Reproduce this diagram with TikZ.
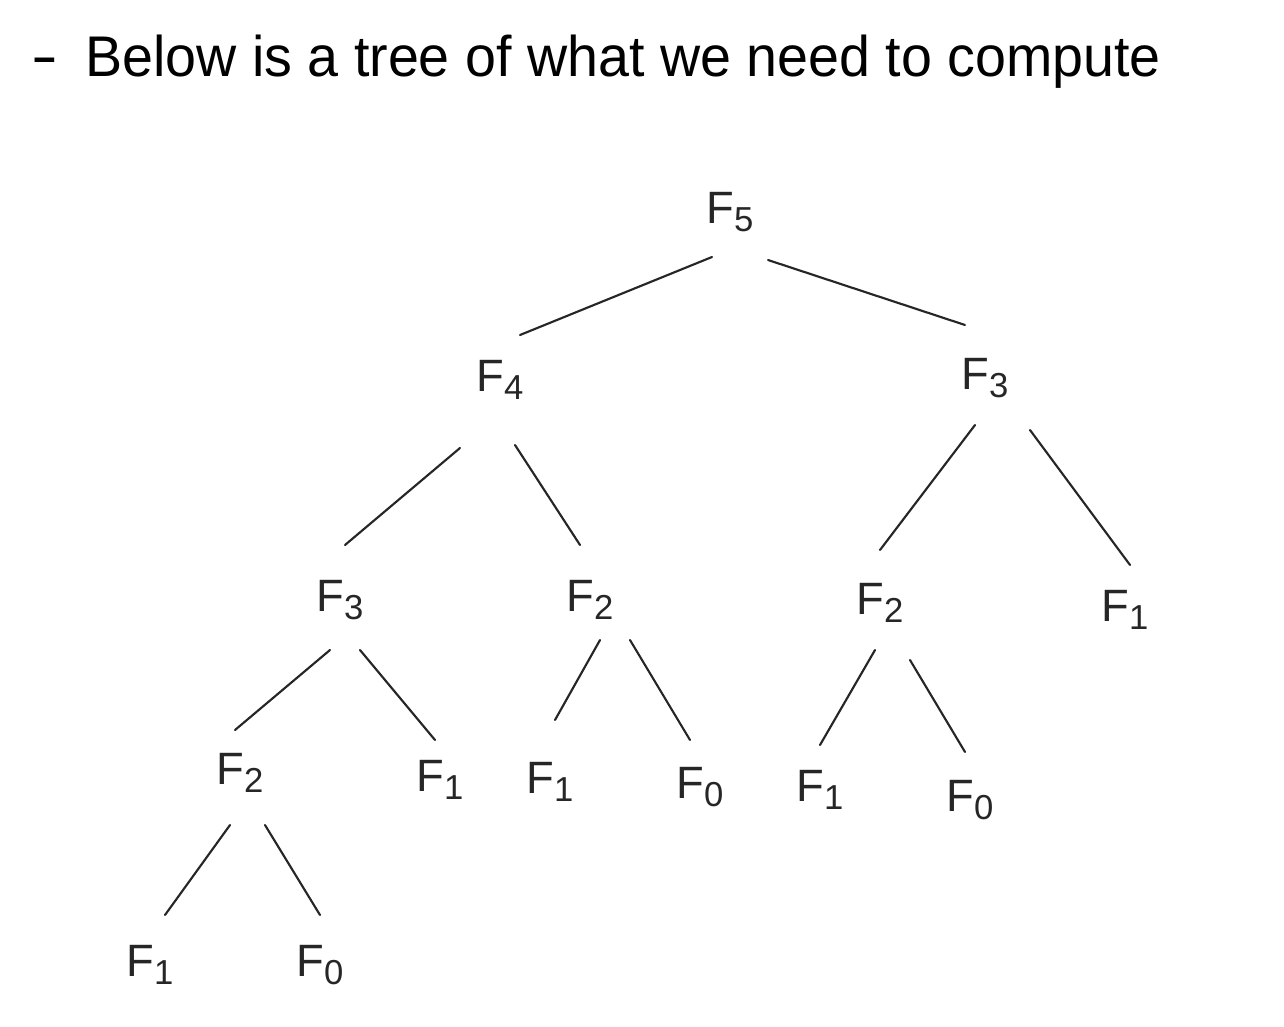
\documentclass[tikz,border=0pt]{standalone}
\usepackage{fontspec}
\setmainfont{Liberation Sans}
\begin{document}
\begin{tikzpicture}[x=0.75pt,y=-0.75pt,
  lbl/.style={inner sep=0pt,text=black!85,font=\fontsize{34}{36}\selectfont},
  twig/.style={draw=black!85,line width=1.6pt,line cap=round}]
\useasboundingbox (0,0) rectangle (1284,1027);
\newcommand{\Fs}[1]{F\raisebox{-0.35ex}{\fontsize{26}{28}\selectfont #1}}
\newcommand{\twigline}[4]{\draw[twig] ([shift={(#2)}]#1.center) -- ([shift={(#4)}]#3.center);}
% title
\node[anchor=base west,inner sep=0pt,font=\fontsize{43}{50}\selectfont,xscale=1.4] (dash) at (31,76) {-};
\node[anchor=base west,inner sep=0pt,font=\fontsize{43}{50}\selectfont,xscale=0.97] (title) at (85,77) {Below is a tree of what we need to compute};
% nodes
\node[lbl] (F5) at (730,212) {\Fs{5}};
\node[lbl] (F4) at (500,380) {\Fs{4}};
\node[lbl] (F3r) at (985,378) {\Fs{3}};
\node[lbl] (F3l) at (340,600) {\Fs{3}};
\node[lbl] (F2m) at (590,600) {\Fs{2}};
\node[lbl] (F2r) at (880,603) {\Fs{2}};
\node[lbl] (F1r) at (1125,610) {\Fs{1}};
\node[lbl] (F2ll) at (240,773) {\Fs{2}};
\node[lbl] (F1a) at (440,780) {\Fs{1}};
\node[lbl] (F1x) at (550,782) {\Fs{1}};
\node[lbl] (F0a) at (700,787) {\Fs{0}};
\node[lbl] (F1b) at (820,790) {\Fs{1}};
\node[lbl] (F0b) at (970,800) {\Fs{0}};
\node[lbl] (F1c) at (150,965) {\Fs{1}};
\node[lbl] (F0c) at (320,965) {\Fs{0}};
% edges
\twigline{F5}{-18,45}{F4}{20,-45}
\twigline{F5}{38,48}{F3r}{-20,-53}
\twigline{F4}{-40,68}{F3l}{5,-55}
\twigline{F4}{15,65}{F2m}{-10,-55}
\twigline{F3r}{-10,47}{F2r}{0,-53}
\twigline{F3r}{45,52}{F1r}{5,-45}
\twigline{F3l}{-10,50}{F2ll}{-5,-43}
\twigline{F3l}{20,50}{F1a}{-5,-40}
\twigline{F2m}{10,40}{F1x}{5,-62}
\twigline{F2m}{40,40}{F0a}{-10,-47}
\twigline{F2r}{-5,47}{F1b}{0,-45}
\twigline{F2r}{30,57}{F0b}{-5,-48}
\twigline{F2ll}{-10,52}{F1c}{15,-50}
\twigline{F2ll}{25,52}{F0c}{0,-50}
\end{tikzpicture}
\end{document}
